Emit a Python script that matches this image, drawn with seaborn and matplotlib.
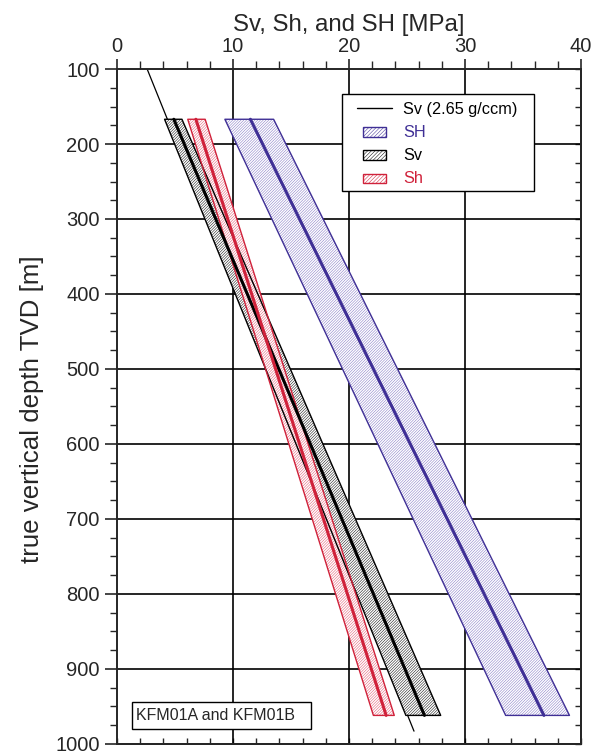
import numpy as np
import pandas as pd
import matplotlib
matplotlib.use("Agg")
import matplotlib.pyplot as plt
import seaborn as sns
from matplotlib.lines import Line2D
from matplotlib.patches import Patch, Rectangle
from matplotlib.legend_handler import HandlerPatch

# depth range of the stress estimates [m]
depth = [167, 962]

# stress bands [MPa] at the top and bottom of the depth range
SH_mid = [11.5, 36.8]
SH_lo = [9.3, 33.5]
SH_hi = [13.5, 39.0]

Sv_mid = [4.9, 26.5]
Sv_lo = [4.1, 24.9]
Sv_hi = [5.6, 27.9]

Sh_mid = [6.8, 23.2]
Sh_lo = [6.1, 22.1]
Sh_hi = [7.6, 23.9]

# overburden for a density of 2.65 g/ccm
ref_depth = [100, 983]
ref_sv = [2.6, 25.6]

x_ticks = [0, 10, 20, 30, 40]
y_ticks = [100, 200, 300, 400, 500, 600, 700, 800, 900, 1000]

BLUE = "#3f2f95"
BLUE_HATCH = "#7d70c2"
RED = "#d0213a"
RED_HATCH = "#e0506a"
BLACK = "black"
GREY_HATCH = "#000000"

sns.set_style("ticks")
plt.rcParams["font.family"] = ["Liberation Sans", "DejaVu Sans"]
plt.rcParams["hatch.linewidth"] = 0.35

fig = plt.figure(figsize=(5.95, 7.56), dpi=100)
ax = fig.add_axes([0.1966, 0.016, 0.7800, 0.8927])

# gridlines, drawn under the bands
for xv in x_ticks[1:-1]:
    ax.axvline(xv, color="black", lw=1.2, zorder=1)
for yv in y_ticks[1:-1]:
    ax.axhline(yv, color="black", lw=1.2, zorder=1)

ref = pd.DataFrame({"depth": ref_depth, "stress": ref_sv})
sns.lineplot(data=ref, x="stress", y="depth", color="black", lw=0.9,
             estimator=None, sort=False, orient="y", ax=ax, zorder=2)

bands = [
    ("SH", SH_lo, SH_mid, SH_hi, BLUE, BLUE_HATCH),
    ("Sv", Sv_lo, Sv_mid, Sv_hi, BLACK, GREY_HATCH),
    ("Sh", Sh_lo, Sh_mid, Sh_hi, RED, RED_HATCH),
]

for name, lo, mid, hi, dark, light in bands:
    ax.fill_betweenx(depth, lo, hi, facecolor="white", edgecolor=light,
                     hatch="/" * 12, lw=0, zorder=3)
    ax.fill_betweenx(depth, lo, hi, facecolor="none", edgecolor=dark,
                     lw=1.0, zorder=4)
    df = pd.DataFrame({"depth": depth, "stress": mid})
    sns.lineplot(data=df, x="stress", y="depth", color=dark, lw=2.2,
                 estimator=None, sort=False, orient="y", ax=ax, zorder=5)

ax.set_xlim(0, 40)
ax.set_ylim(1000, 100)

ax.xaxis.tick_top()
ax.xaxis.set_label_position("top")
ax.set_xticks(x_ticks)
ax.set_xticks(np.arange(0, 41, 2), minor=True)
ax.set_yticks(y_ticks)
ax.set_yticks(np.arange(100, 1001, 25), minor=True)
ax.tick_params(axis="x", which="major", direction="out", length=7, width=1.2,
               labelsize=14.5, pad=2.5)
ax.tick_params(axis="x", which="minor", direction="out", length=5.5, width=1.0)
ax.tick_params(axis="y", which="major", direction="out", length=9, width=1.2,
               labelsize=14.5, pad=3.4)
ax.tick_params(axis="y", which="minor", direction="out", length=5, width=1.0)

ax.set_xlabel("Sv, Sh, and SH [MPa]", fontsize=17.3, labelpad=4)
ax.set_ylabel("true vertical depth TVD [m]", fontsize=18.6)
ax.yaxis.set_label_coords(-0.158, 0.496)

for side in ["top", "bottom", "left", "right"]:
    ax.spines[side].set_visible(True)
    ax.spines[side].set_linewidth(1.4)
    ax.spines[side].set_zorder(6)

# inward ticks on the bottom and right frame
sec_x = ax.secondary_xaxis("bottom")
sec_x.set_xticks(np.arange(0, 41, 2))
sec_x.tick_params(direction="in", length=4.2, width=1.0, labelbottom=False)
sec_x.spines["bottom"].set_linewidth(1.4)
sec_y = ax.secondary_yaxis("right")
sec_y.set_yticks(np.arange(100, 1001, 25))
sec_y.tick_params(direction="in", length=4.5, width=1.0, labelright=False)
sec_y.spines["right"].set_linewidth(1.4)


def small_rect(legend, orig_handle, xdescent, ydescent, width, height, fontsize):
    w = width * 0.66
    return Rectangle((xdescent + (width - w) / 2, ydescent + 0.02 * height), w, height * 0.85)


handles = [
    Line2D([0], [0], color="black", lw=1),
    Patch(facecolor="white", edgecolor=BLUE, hatch="/" * 9, lw=1),
    Patch(facecolor="white", edgecolor=BLACK, hatch="/" * 9, lw=1),
    Patch(facecolor="white", edgecolor=RED, hatch="/" * 9, lw=1),
]
labels = ["Sv (2.65 g/ccm)", "SH", "Sv", "Sh"]

# legend frame drawn as its own box
ax.add_patch(Rectangle((0.4846, 0.8193), 0.4148, 0.1437, transform=ax.transAxes,
                       facecolor="white", edgecolor="black", lw=1.0, zorder=9))
leg = ax.legend(handles, labels, loc="upper left", bbox_to_anchor=(0.5176, 0.951),
                borderaxespad=0, borderpad=0, fontsize=11.7, frameon=False,
                handlelength=2.15, handletextpad=0.68, labelspacing=0.5,
                handler_map={Patch: HandlerPatch(patch_func=small_rect)})
leg.set_zorder(10)
for txt, col in zip(leg.get_texts(), ["black", BLUE, "black", RED]):
    txt.set_color(col)

# site label box
ax.add_patch(Rectangle((0.0323, 0.0227), 0.386, 0.0391, transform=ax.transAxes,
                       facecolor="white", edgecolor="black", lw=1.0, zorder=9))
ax.text(0.0418, 0.0422, "KFM01A and KFM01B", transform=ax.transAxes, fontsize=11.5,
        ha="left", va="center", zorder=10)

fig.savefig("out.png", dpi=100)
